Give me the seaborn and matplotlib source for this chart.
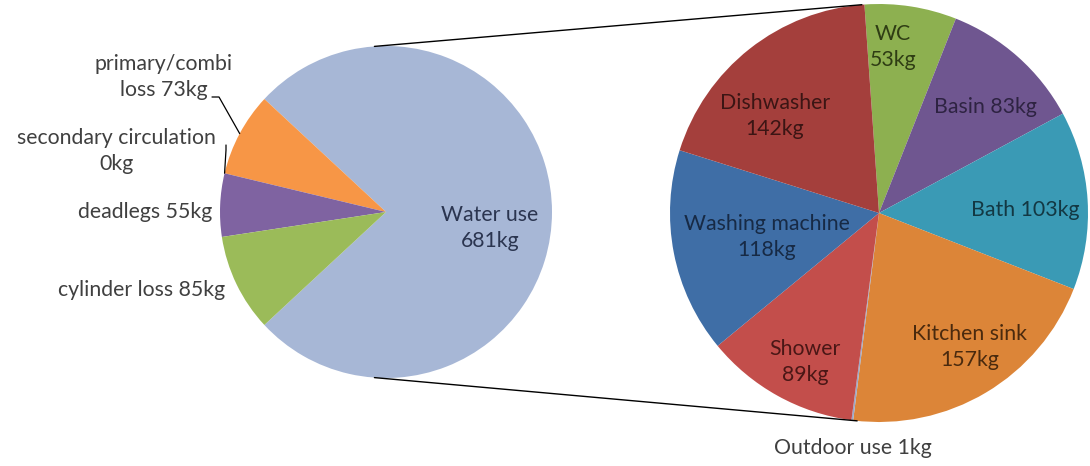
import numpy as np
import matplotlib
matplotlib.use("Agg")
import matplotlib.pyplot as plt
import seaborn as sns

# ---- data ----
left_labels = ["Water use", "primary/combi\nloss", "secondary circulation\n", "deadlegs", "cylinder loss"]
left_values = [681, 73, 0, 55, 85]
left_colors = ["#A7B7D6", "#F79646", "#4BACC6", "#7F63A1", "#9BBB59"]

right_labels = ["WC", "Basin", "Bath", "Kitchen sink", "Outdoor use", "Shower", "Washing machine", "Dishwasher"]
right_values = [53, 83, 103, 157, 1, 89, 118, 142]
right_colors = ["#8DB050", "#6F5690", "#3A9AB5", "#DC8538", "#9AA8C8", "#C34E4B", "#3F6EA6", "#A43F3C"]
right_text_colors = ["#2F3D14", "#2E2342", "#133843", "#4A2A0E", "#404040", "#4A1716", "#172A45", "#3B1514"]

sns.set_theme(style="white")
plt.rcParams["font.family"] = ["Lato", "DejaVu Sans"]

W, H = 1090, 466
fig = plt.figure(figsize=(W / 100, H / 100), dpi=100)
ax = fig.add_axes([0, 0, 1, 1])

def py(y):
    return H - y

FS = 15.3
LS = 1.38
# ---- left pie ----
lc = (386, py(212))
lr = 166
total_left = sum(left_values)
start_left = -left_values[0] / total_left * 180
wl, _ = ax.pie(left_values, colors=left_colors, startangle=start_left, counterclock=True,
               center=lc, radius=lr, wedgeprops=dict(linewidth=0),
               frame=True)

# ---- right pie ----
rc = (879, py(213))
rr = 209
total_right = sum(right_values)
start_right = 94
wr, _ = ax.pie(right_values, colors=right_colors, startangle=start_right, counterclock=False,
               center=rc, radius=rr, wedgeprops=dict(linewidth=0),
               frame=True)
ax.set_xlim(0, W)
ax.set_ylim(0, H)
ax.set_aspect("equal")
ax.axis("off")

# connecting lines
for a_l, a_r in [(94, 94.7), (-94, -96)]:
    x1 = lc[0] + lr * np.cos(np.radians(a_l)); y1 = lc[1] + lr * np.sin(np.radians(a_l))
    x2 = rc[0] + rr * np.cos(np.radians(a_r)); y2 = rc[1] + rr * np.sin(np.radians(a_r))
    ax.plot([x1, x2], [y1, y2], color="black", lw=1.0)

tc = "#404040"
# left labels
ax.text(490, py(228), f"{left_labels[0]}\n{left_values[0]}kg", ha="center", va="center",
        fontsize=FS, color="#2B3550", linespacing=LS)
ax.text(164, py(77), f"primary/combi\nloss {left_values[1]}kg", ha="center", va="center",
        fontsize=FS, color=tc, linespacing=LS)
ax.text(116, py(151), f"secondary circulation\n{left_values[2]}kg", ha="center", va="center",
        fontsize=FS, color=tc, linespacing=LS)
ax.text(145, py(212), f"{left_labels[3]} {left_values[3]}kg", ha="center", va="center",
        fontsize=FS, color=tc)
ax.text(142, py(290), f"{left_labels[4]} {left_values[4]}kg", ha="center", va="center",
        fontsize=FS, color=tc)

# leader lines
def edge_pt(center, r, ang):
    return center[0] + r * np.cos(np.radians(ang)), center[1] + r * np.sin(np.radians(ang))

a_orange = start_left + 360 * (left_values[0] + left_values[1] / 2) / total_left
ex, ey = edge_pt(lc, lr, a_orange)
ax.plot([212, 219, ex], [py(97), py(97), ey], color="black", lw=0.9)
a_sec = start_left + 360 * (left_values[0] + left_values[1]) / total_left
ex, ey = edge_pt(lc, lr, a_sec)
ax.plot([226, 226, ex], [py(145), py(150), ey], color="black", lw=0.9)

# right labels
pos = {
    "WC": (893, 47),
    "Basin": (985, 107),
    "Bath": (1025, 210),
    "Kitchen sink": (970, 347),
    "Outdoor use": (853, 448),
    "Shower": (805, 362),
    "Washing machine": (767, 237),
    "Dishwasher": (775, 116),
}
for lab, val, col in zip(right_labels, right_values, right_text_colors):
    x, y = pos[lab]
    if lab in ("WC", "Kitchen sink", "Shower", "Washing machine", "Dishwasher"):
        s = f"{lab}\n{val}kg"
    else:
        s = f"{lab} {val}kg"
    ax.text(x, py(y), s, ha="center", va="center", fontsize=FS, color=col, linespacing=LS)

fig.savefig("out.png", dpi=100, facecolor="white")
